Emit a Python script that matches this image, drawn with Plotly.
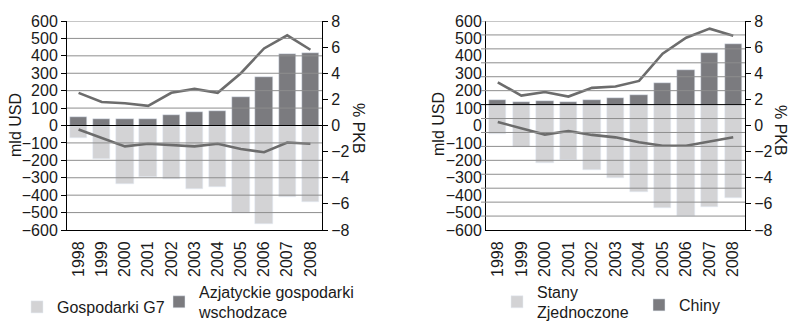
import numpy as np
import plotly.graph_objects as go

# Categories
years = [str(y) for y in range(1998, 2009)]

# Left panel: G7 vs emerging Asia (bn USD and % of GDP)
g7_usd = [-70, -195, -333, -293, -310, -367, -355, -500, -563, -413, -442]
asia_usd = [46, 40, 40, 35, 63, 80, 86, 161, 281, 408, 419]
g7_pct = [-0.3, -0.95, -1.6, -1.4, -1.5, -1.6, -1.4, -1.8, -2.05, -1.3, -1.4]
asia_pct = [2.5, 1.8, 1.7, 1.5, 2.5, 2.8, 2.5, 4.0, 5.9, 6.9, 5.8]

# Right panel: United States vs China
us_usd = [-212, -305, -418, -396, -466, -527, -630, -740, -800, -736, -672]
china_usd = [31, 20, 23, 22, 36, 46, 71, 155, 248, 368, 433]
us_pct = [-2.5, -3.4, -4.3, -3.8, -4.35, -4.7, -5.4, -5.9, -5.9, -5.3, -4.7]
china_pct = [3.2, 1.3, 1.8, 1.15, 2.4, 2.6, 3.4, 7.3, 9.6, 10.9, 9.9]

# Tick labels printed on the value axes
usd_labels = [600, 500, 400, 300, 200, 100, 0, -100, -200, -300, -400, -500, -600]
pct_labels = [8, 6, 4, 2, 0, -2, -4, -6, -8]

LIGHT = "#d3d3d5"
DARK = "#7b7b7f"
LINE = "#6c6c6c"
GRID = "#8e8e8e"
FONT = "Liberation Sans, Arial, sans-serif"
TXT = "#1a1a1a"
FS = 16
W, H = 790, 322
LEFT_X = (67, 322)     # plot area of the left panel, px
RIGHT_X = (486, 745)   # plot area of the right panel, px


def fmt(v):
    return str(v).replace("-", "\u2212")


fig = go.Figure()

# ---- left panel ----
fig.add_bar(x=years, y=g7_usd, name="Gospodarki G7", marker_color=LIGHT,
            width=0.75, xaxis="x", yaxis="y", legend="legend")
fig.add_bar(x=years, y=asia_usd, name="Azjatyckie gospodarki<br>wschodzace",
            marker_color=DARK, width=0.75, xaxis="x", yaxis="y", legend="legend2")
fig.add_scatter(x=years, y=g7_pct, mode="lines", line=dict(color=LINE, width=2.6),
                xaxis="x", yaxis="y2", showlegend=False, hoverinfo="skip")
fig.add_scatter(x=years, y=asia_pct, mode="lines", line=dict(color=LINE, width=2.6),
                xaxis="x", yaxis="y2", showlegend=False, hoverinfo="skip")

# ---- right panel ----
fig.add_bar(x=years, y=us_usd, name="Stany<br>Zjednoczone", marker_color=LIGHT,
            width=0.74, xaxis="x2", yaxis="y3", legend="legend3")
fig.add_bar(x=years, y=china_usd, name="Chiny", marker_color=DARK,
            width=0.74, xaxis="x2", yaxis="y3", legend="legend4")
fig.add_scatter(x=years, y=us_pct, mode="lines", line=dict(color=LINE, width=2.6),
                xaxis="x2", yaxis="y4", showlegend=False, hoverinfo="skip")
fig.add_scatter(x=years, y=china_pct, mode="lines", line=dict(color=LINE, width=2.6),
                xaxis="x2", yaxis="y4", showlegend=False, hoverinfo="skip")

ydom = [1 - 230 / H, 1 - 21 / H]
tickfont = dict(family=FONT, size=FS, color=TXT)

# value ranges of each panel
left_usd_rng = [-600, 600]
left_pct_rng = [-8, 8]
right_usd_rng = [-900, 600]
right_pct_rng = [-18, 12]

xcommon = dict(type="category", tickangle=-90, tickfont=tickfont, showline=True,
               linecolor="black", linewidth=1, showgrid=False, ticks="",
               ticklabelstandoff=4, automargin=False)
ycommon = dict(showgrid=False, zeroline=False, showline=True, linecolor="black",
               linewidth=1, ticklen=5, tickcolor="black",
               tickfont=tickfont, automargin=False)

legend_common = dict(orientation="h", xanchor="left", yanchor="middle",
                     font=dict(family=FONT, size=FS, color=TXT), bgcolor="rgba(0,0,0,0)",
                     itemwidth=30, valign="middle")

fig.update_layout(
    width=W, height=H,
    margin=dict(l=0, r=0, t=0, b=0, autoexpand=False),
    paper_bgcolor="white", plot_bgcolor="white",
    barmode="overlay", bargap=0,
    font=dict(family=FONT, size=FS, color=TXT),
    xaxis=dict(domain=[LEFT_X[0] / W, LEFT_X[1] / W], anchor="y", **xcommon),
    xaxis2=dict(domain=[RIGHT_X[0] / W, RIGHT_X[1] / W], anchor="y3", **xcommon),
    yaxis=dict(domain=ydom, anchor="x", range=left_usd_rng, ticks="outside",
               tickvals=np.linspace(left_usd_rng[1], left_usd_rng[0], len(usd_labels)),
               ticktext=[fmt(v) for v in usd_labels], **ycommon),
    yaxis2=dict(domain=ydom, anchor="x", overlaying="y", side="right", range=left_pct_rng,
                ticks="outside",
                tickvals=np.linspace(left_pct_rng[1], left_pct_rng[0], len(pct_labels)),
                ticktext=[fmt(v) for v in pct_labels], **ycommon),
    yaxis3=dict(domain=ydom, anchor="x2", range=right_usd_rng, ticks="",
                tickvals=np.linspace(right_usd_rng[1], right_usd_rng[0], len(usd_labels)),
                ticktext=[fmt(v) for v in usd_labels], **ycommon),
    yaxis4=dict(domain=ydom, anchor="x2", overlaying="y3", side="right", range=right_pct_rng,
                ticks="outside",
                tickvals=np.linspace(right_pct_rng[1], right_pct_rng[0], len(pct_labels)),
                ticktext=[fmt(v) for v in pct_labels], **ycommon),
    legend=dict(x=17 / W, y=1 - 307 / H, **legend_common),
    legend2=dict(x=159 / W, y=1 - 302 / H, **legend_common),
    legend3=dict(x=497 / W, y=1 - 302 / H, **legend_common),
    legend4=dict(x=639 / W, y=1 - 305 / H, **legend_common),
)

# gridlines drawn over the bars (right panel's lines also run out as tick marks),
# black zero line
shapes = []
for yref, xref, rng, ext in (("y", "x domain", left_usd_rng, 0.0),
                             ("y3", "x2 domain", right_usd_rng,
                              -5 / (RIGHT_X[1] - RIGHT_X[0]))):
    for v in range(rng[0] + 100, rng[1] + 1, 100):
        shapes.append(dict(type="line", xref=xref, yref=yref, x0=ext, x1=1, y0=v, y1=v,
                           line=dict(color="black" if v == 0 else GRID, width=1),
                           layer="above"))
fig.update_layout(shapes=shapes)

# axis titles
ann = dict(showarrow=False, xref="paper", yref="paper", xanchor="center", yanchor="middle",
           font=dict(family=FONT, size=FS, color=TXT))
fig.add_annotation(text="mld USD", x=15 / W, y=1 - 125 / H, textangle=-90, **ann)
fig.add_annotation(text="mld USD", x=438 / W, y=1 - 124 / H, textangle=-90, **ann)
fig.add_annotation(text="% PKB", x=358 / W, y=1 - 128 / H, textangle=90, **ann)
fig.add_annotation(text="% PKB", x=781 / W, y=1 - 130 / H, textangle=90, **ann)

fig.write_html("out.html")
